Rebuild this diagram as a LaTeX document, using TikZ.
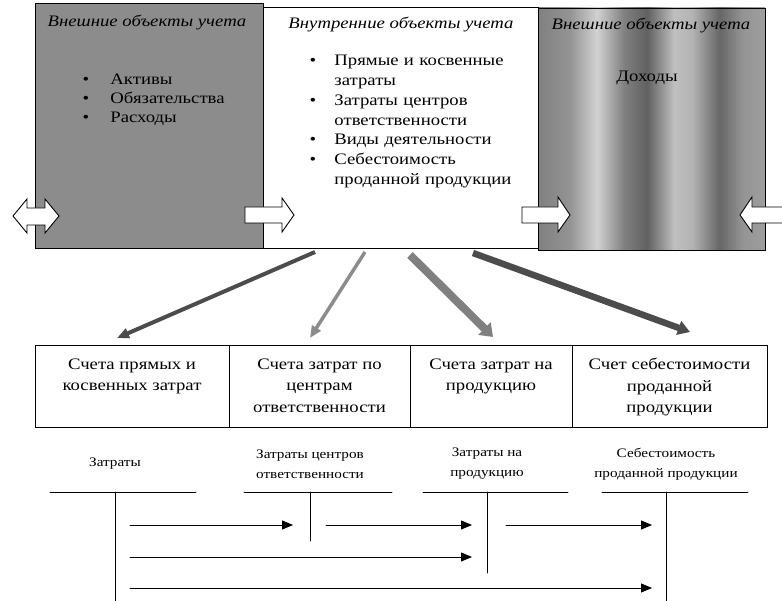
\documentclass[tikz,border=0pt]{standalone}
\usepackage{fontspec}
\setmainfont{Liberation Serif}[FakeStretch=1.17]
\usetikzlibrary{arrows.meta,positioning}
\pgfdeclarehorizontalshading{vetas}{100bp}{color(0bp)=(black!50); color(25bp)=(black!50);
  color(32bp)=(black!42); color(38bp)=(black!18); color(44bp)=(black!50); color(49bp)=(black!62);
  color(55bp)=(black!25); color(59bp)=(black!30); color(65bp)=(black!60); color(70bp)=(black!42);
  color(75bp)=(black!38); color(100bp)=(black!38)}

\begin{document}
\begin{tikzpicture}[x=1pt, y=-1pt, line width=0.9pt, line cap=round,
    txt/.style={font=\fontsize{16}{19.7}\selectfont, inner sep=0pt},
    titulo/.style={font=\fontsize{16}{19.7}\selectfont\itshape, inner sep=0pt, anchor=base},
    elem/.style={txt, anchor=base west, align=left, text width=200pt},
    punto/.style={txt, anchor=base},
    cuenta/.style={draw, minimum height=82, inner sep=0pt, outer sep=0pt},
    ctatxt/.style={font=\fontsize{16}{21.5}\selectfont, inner sep=0pt, align=center},
    tlabel/.style={font=\fontsize{13}{20}\selectfont, inner sep=0pt, align=center},
    flujo/.style={line width=0.8pt, -{Triangle[length=11pt,width=9pt]}},
    bloque/.style={fill=white, line join=miter},
    diag/.style={line cap=butt, -{Triangle[length=12pt,width=#1]}}]
  \useasboundingbox (0,0) rectangle (782,601);
  % objetos externos e internos
  \draw[fill=black!45] (35,3) rectangle (263,248);
  \shade[shading=vetas] (538,8) rectangle (765,250);
  \draw (538,8) rectangle (765,250);
  \node[draw, fill=white, minimum width=275, minimum height=241, inner sep=0pt, outer sep=0pt]
    (interno) at (400.5,127.5) {};
  \node[titulo] (extIzq) at (147,27) {Внешние объекты учета};
  \node[titulo] (intTit) at (401,29) {Внутренние объекты учета};
  \node[titulo] (extDer) at (651,30) {Внешние объекты учета};
  \foreach \y/\t [count=\i] in {85/Активы, 104/Обязательства, 123/Расходы} {
    \node[punto] (pa\i) at (86,\y) {\textbullet};
    \node[elem] (ea\i) at (110,\y) {\t};
  }
  \foreach \y/\t [count=\i] in {66/{Прямые и косвенные\\затраты},
      105.4/{Затраты центров\\ответственности}, 144.8/{Виды деятельности},
      164.5/{Себестоимость\\проданной продукции}} {
    \node[punto] (pb\i) at (313,\y) {\textbullet};
    \node[elem] (eb\i) at (334,\y) {\t};
  }
  \node[txt, anchor=base] (ingresos) at (647,82) {Доходы};
  % flechas de bloque
  \draw[bloque] (13,216) -- (27,199) -- (27,208) -- (45,208) -- (45,199) -- (59,216)
    -- (45,233) -- (45,225) -- (27,225) -- (27,233) -- cycle;
  \draw[bloque] (245,207) -- (282,207) -- (282,198) -- (294,215) -- (282,232) -- (282,223)
    -- (245,223) -- cycle;
  \draw[bloque] (522,207) -- (558,207) -- (558,197) -- (570,215) -- (558,232) -- (558,223)
    -- (522,223) -- cycle;
  \draw[bloque] (790,207) -- (752,207) -- (752,197) -- (740,215) -- (752,232) -- (752,223)
    -- (790,223) -- cycle;
  % cuentas
  \node[cuenta, minimum width=194] (cta1) at (132,386) {};
  \node[cuenta, minimum width=181] (cta2) at (319.5,386) {};
  \node[cuenta, minimum width=162] (cta3) at (491,386) {};
  \node[cuenta, minimum width=195] (cta4) at (669.5,386) {};
  \node[ctatxt, below=13pt of cta1.north] (c1) {Счета прямых и\\косвенных затрат};
  \node[ctatxt, below=13pt of cta2.north] (c2) {Счета затрат по\\центрам\\ответственности};
  \node[ctatxt, below=13pt of cta3.north] (c3) {Счета затрат на\\продукцию};
  \node[ctatxt, below=13pt of cta4.north] (c4) {Счет себестоимости\\проданной\\продукции};
  \draw[diag=10pt, line width=4pt, black!70]
    ([xshift=-85.5pt,yshift=-4pt]interno.south) -- ([xshift=-15pt,yshift=7pt]cta1.north);
  \draw[diag=10pt, line width=3.5pt, black!45]
    ([xshift=-35.5pt,yshift=-4pt]interno.south) -- ([xshift=-9.5pt,yshift=7pt]cta2.north);
  \draw[diag=17pt, line width=8pt, black!50]
    ([xshift=9.5pt,yshift=-7pt]interno.south) -- ([xshift=2pt,yshift=8pt]cta3.north);
  \draw[diag=14pt, line width=6.5pt, black!70]
    ([xshift=72.5pt,yshift=-5pt]interno.south) -- ([xshift=20.5pt,yshift=13pt]cta4.north);
  % cuentas T
  \coordinate (tZat) at (115,492);
  \coordinate (tCen) at (310,492);
  \coordinate (tPro) at (487,492);
  \coordinate (tCos) at (666,492);
  \draw (50,492) -- (196,492) (115,492) -- (115,601);
  \draw (244,492) -- (392,492) (310,492) -- (310,541);
  \draw (423,492) -- (568,492) (487,492) -- (487,573);
  \draw (602,492) -- (748,492) (666,492) -- (666,601);
  \node[tlabel] (lZat) at (115,464) {Затраты};
  \node[tlabel] (lCen) at (310,464) {Затраты центров\\ответственности};
  \node[tlabel] (lPro) at (487,464) {Затраты на\\продукцию};
  \node[tlabel] (lCos) at (666,464) {Себестоимость\\проданной продукции};
  \draw[flujo] ([xshift=15pt,yshift=-33pt]tZat) -- ([xshift=-17pt,yshift=-33pt]tCen);
  \draw[flujo] ([xshift=16pt,yshift=-33pt]tCen) -- ([xshift=-15pt,yshift=-33pt]tPro);
  \draw[flujo] ([xshift=19pt,yshift=-33pt]tPro) -- ([xshift=-14pt,yshift=-33pt]tCos);
  \draw[flujo] ([xshift=15pt,yshift=-65pt]tZat) -- ([xshift=-15pt,yshift=-65pt]tPro);
  \draw[flujo] ([xshift=15pt,yshift=-96pt]tZat) -- ([xshift=-14pt,yshift=-96pt]tCos);
\end{tikzpicture}
\end{document}
